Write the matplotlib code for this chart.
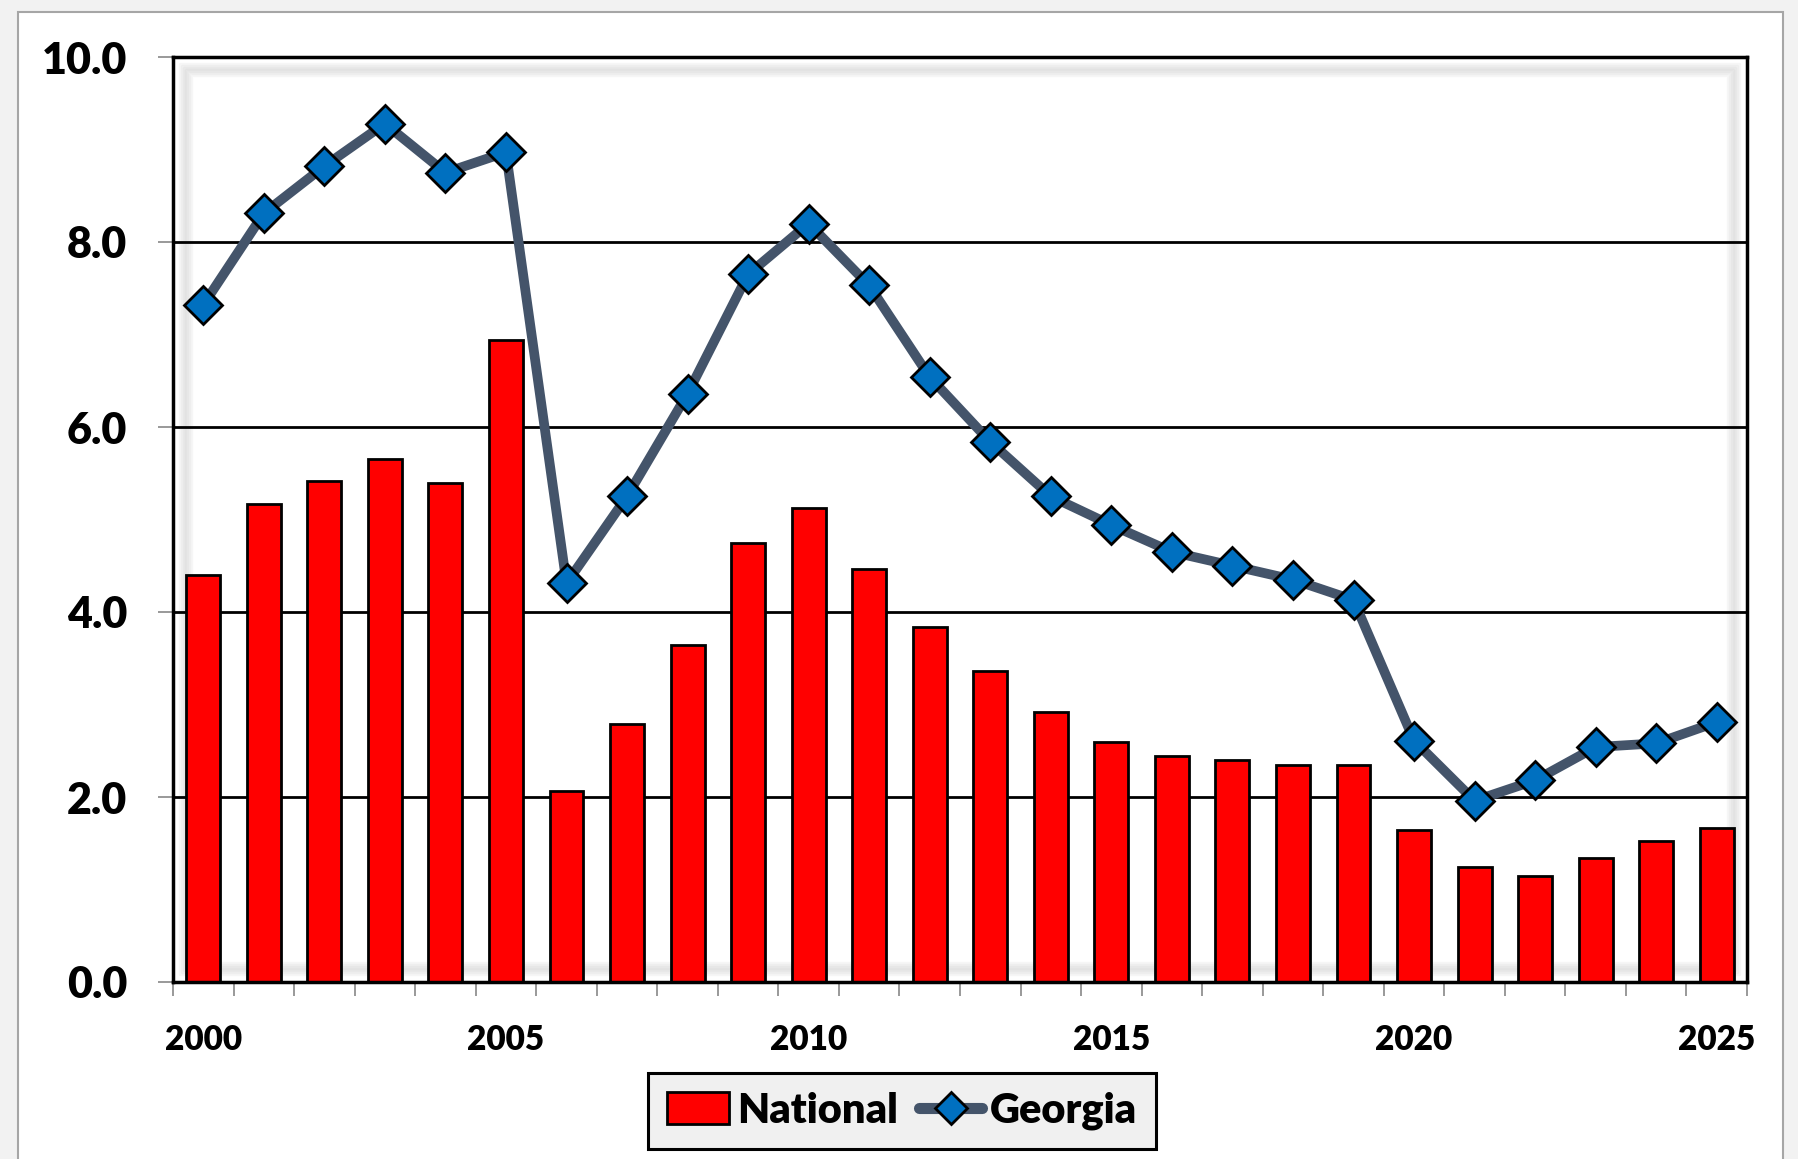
import numpy as np
import matplotlib.pyplot as plt
from matplotlib.patches import Rectangle
from matplotlib.lines import Line2D

years = list(range(2000, 2026))
national = [4.40, 5.17, 5.42, 5.65, 5.39, 6.94, 2.06, 2.79, 3.64, 4.75,
            5.12, 4.47, 3.84, 3.36, 2.92, 2.60, 2.44, 2.40, 2.35, 2.35,
            1.64, 1.24, 1.15, 1.34, 1.52, 1.66]
georgia = [7.32, 8.31, 8.82, 9.28, 8.75, 8.97, 4.31, 5.25, 6.36, 7.65,
           8.20, 7.53, 6.54, 5.84, 5.25, 4.94, 4.65, 4.50, 4.35, 4.13,
           2.61, 1.96, 2.18, 2.54, 2.58, 2.81]
y_ticks = [0, 2, 4, 6, 8, 10]
label_years = [2000, 2005, 2010, 2015, 2020, 2025]

plt.rcParams['font.family'] = ['Lato', 'DejaVu Sans']
plt.rcParams['font.weight'] = 'heavy'

W, H = 1798, 1159
fig = plt.figure(figsize=(W / 100, H / 100), dpi=100, facecolor='#f2f2f2')

# white chart area with thin gray border
fig.patches.append(Rectangle((18 / W, -0.05), (1783 - 18) / W, 1.05 - 12 / H,
                             transform=fig.transFigure, facecolor='white',
                             edgecolor='#a6a6a6', lw=1.5, zorder=-5))

ax = fig.add_axes([173 / W, 1 - 982 / H, (1747 - 173) / W, (982 - 57) / H])
ax.set_facecolor('white')

x = np.arange(len(years))
ax.set_xlim(-0.5, len(years) - 0.5)
ax.set_ylim(0, 10)

# inner shadow effect (approximate)
aw, ah = 1747 - 173, 982 - 57
for d, a in [(7, 0.06), (9, 0.10), (11, 0.15), (13, 0.18), (15, 0.15),
             (17, 0.10), (19, 0.06)]:
    ax.add_patch(Rectangle((d / aw, d / ah), 1 - 2 * d / aw, 1 - 2 * d / ah,
                           transform=ax.transAxes, fill=False,
                           edgecolor='#707070', lw=1.6, alpha=a,
                           joinstyle='round', zorder=0.5))

for yv in y_ticks[1:-1]:
    ax.axhline(yv, color='black', lw=2, zorder=1)

ax.bar(x, national, width=0.56, color='#ff0000', edgecolor='black',
       lw=2, zorder=2)
ax.plot(x, georgia, color='#44546a', lw=7, marker='D', markersize=19,
        markerfacecolor='#0070c0', markeredgecolor='black',
        markeredgewidth=2, zorder=3)

for s in ax.spines.values():
    s.set_color('black')
    s.set_linewidth(2.5)

ax.set_yticks(y_ticks)
ax.set_yticklabels([f'{v:.1f}' for v in y_ticks], fontsize=31,
                   fontweight='heavy')
ax.tick_params(axis='y', length=11, width=1.2, color='#888888', pad=22)

ax.set_xticks(np.arange(-0.5, len(years)))
ax.set_xticklabels([])
ax.tick_params(axis='x', which='major', length=10, width=1.2,
               color='#888888', direction='out')
ax.set_xticks([years.index(y) for y in label_years], minor=True)
ax.set_xticklabels([str(y) for y in label_years], minor=True, fontsize=24,
                   fontweight='heavy')
ax.tick_params(axis='x', which='minor', length=0, pad=30)

handles = [Rectangle((0, 0), 1, 1, facecolor='#ff0000', edgecolor='black', lw=2),
           Line2D([0], [0], color='#44546a', lw=8, marker='D', markersize=16,
                  markerfacecolor='#0070c0', markeredgecolor='black',
                  markeredgewidth=2, solid_capstyle='round')]
leg = fig.legend(handles, ['National', 'Georgia'], loc='center',
                 bbox_to_anchor=(902 / W, 1 - 1111 / H), ncol=2,
                 fontsize=30, frameon=True, fancybox=False,
                 handlelength=1.5, handleheight=0.8, handletextpad=0.2,
                 columnspacing=0.5, borderpad=0.45, borderaxespad=0)
leg.get_frame().set_facecolor('#f0f0f0')
leg.get_frame().set_edgecolor('black')
leg.get_frame().set_linewidth(2.2)
leg.get_frame().set_alpha(1)
for t in leg.get_texts():
    t.set_fontweight('heavy')

fig.savefig('out.png', dpi=100, facecolor=fig.get_facecolor())
